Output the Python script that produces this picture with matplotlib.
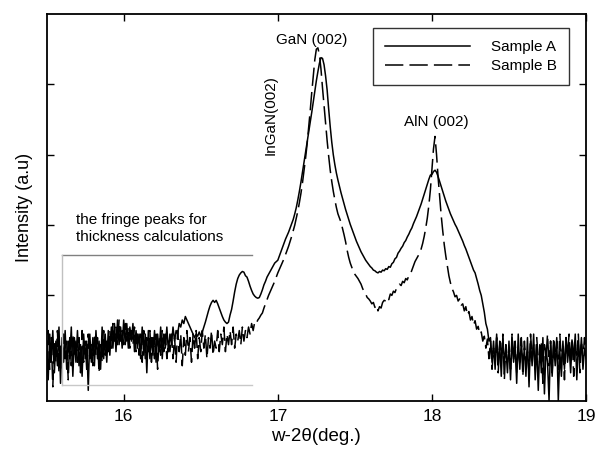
import numpy as np
import matplotlib
matplotlib.use("Agg")
import matplotlib.pyplot as plt

plt.rcParams['font.family'] = ['Liberation Sans', 'DejaVu Sans']

# scan grid: 15.50 .. 19.00 deg, step 0.01
angle_start, angle_stop, angle_step = 15.50, 19.00, 0.01

# Sample A (solid) intensities, one row per 0.1 deg
sample_a = [
    0.80, 0.30, 0.95, 0.55, 1.00, 0.40, 0.85, 0.50, 1.05, 0.25,
    0.90, 0.55, 1.00, 0.45, 0.85, 0.60, 1.05, 0.35, 0.90, 0.55,
    1.00, 0.50, 0.80, 0.35, 0.95, 0.60, 0.85, 0.15, 0.95, 0.55,
    0.90, 0.50, 1.00, 0.60, 0.85, 0.45, 1.05, 0.60, 0.95, 0.55,
    1.00, 0.65, 1.05, 0.75, 1.10, 0.70, 1.15, 0.80, 1.05, 0.75,
    1.15, 0.80, 1.10, 0.75, 1.05, 0.85, 1.10, 0.70, 1.00, 0.75,
    0.95, 0.60, 1.05, 0.65, 0.95, 0.40, 1.00, 0.60, 0.90, 0.65,
    1.00, 0.55, 0.95, 0.70, 1.05, 0.60, 0.95, 0.75, 1.05, 0.70,
    0.95, 0.80, 1.05, 0.85, 1.00, 0.95, 1.10, 1.05, 1.15, 1.10,
    1.20, 1.15, 1.10, 1.05, 1.00, 0.95, 0.90, 0.95, 0.92, 0.98,
    0.92, 0.98, 1.05, 1.12, 1.20, 1.28, 1.35, 1.40, 1.43, 1.40,
    1.43, 1.38, 1.32, 1.26, 1.20, 1.15, 1.12, 1.10, 1.12, 1.22,
    1.30, 1.42, 1.55, 1.66, 1.74, 1.79, 1.82, 1.84, 1.83, 1.78,
    1.76, 1.70, 1.63, 1.57, 1.52, 1.49, 1.47, 1.46, 1.47, 1.52,
    1.58, 1.65, 1.70, 1.76, 1.80, 1.84, 1.88, 1.92, 1.96, 1.98,
    2.00, 2.06, 2.12, 2.18, 2.24, 2.30, 2.35, 2.40, 2.46, 2.52,
    2.58, 2.66, 2.75, 2.86, 2.98, 3.11, 3.25, 3.38, 3.52, 3.66,
    3.80, 3.95, 4.10, 4.25, 4.40, 4.55, 4.68, 4.80, 4.88, 4.87,
    4.78, 4.62, 4.42, 4.15, 3.90, 3.68, 3.50, 3.36, 3.24, 3.14,
    3.05, 2.96, 2.88, 2.80, 2.72, 2.65, 2.58, 2.51, 2.45, 2.39,
    2.33, 2.27, 2.22, 2.17, 2.12, 2.08, 2.04, 2.00, 1.97, 1.94,
    1.91, 1.89, 1.86, 1.85, 1.83, 1.82, 1.84, 1.83, 1.86, 1.85,
    1.88, 1.87, 1.91, 1.90, 1.95, 1.97, 2.02, 2.04, 2.10, 2.13,
    2.17, 2.20, 2.25, 2.28, 2.33, 2.37, 2.42, 2.46, 2.52, 2.57,
    2.62, 2.68, 2.74, 2.80, 2.87, 2.94, 3.01, 3.08, 3.15, 3.21,
    3.22, 3.26, 3.28, 3.25, 3.19, 3.12, 3.05, 2.98, 2.91, 2.84,
    2.78, 2.72, 2.66, 2.61, 2.56, 2.51, 2.47, 2.42, 2.37, 2.32,
    2.27, 2.21, 2.16, 2.10, 2.04, 1.98, 1.92, 1.86, 1.82, 1.74,
    1.66, 1.57, 1.50, 1.38, 1.26, 1.10, 1.02, 0.85, 0.90, 0.55,
    0.85, 0.45, 0.95, 0.50, 0.80, 0.35, 0.90, 0.55, 0.75, 0.40,
    0.85, 0.30, 0.90, 0.55, 0.80, 0.25, 0.95, 0.45, 0.85, 0.50,
    0.75, 0.35, 0.90, 0.20, 0.85, 0.50, 0.95, 0.30, 0.80, 0.15,
    0.80, 0.40, 0.90, 0.10, 0.75, 0.55, 0.00, 0.85, 0.35, 0.80,
    0.50, 0.90, 0.00, 0.70, 0.35, 0.85, 0.45, 0.90, 0.55, 0.80,
    0.40, 0.85, 0.60, 0.95, 0.30, 0.80, 0.55, 0.90, 0.45, 0.75,
    0.60,
]

# Sample B (dashed) intensities, one row per 0.1 deg
sample_b = [
    0.60, 1.00, 0.45, 0.90, 0.20, 0.85, 0.55, 1.00, 0.40, 0.80,
    0.45, 0.95, 0.60, 0.85, 0.30, 0.90, 0.50, 0.95, 0.65, 0.85,
    0.55, 0.90, 0.40, 1.00, 0.55, 0.85, 0.45, 0.95, 0.60, 0.80,
    0.50, 0.95, 0.65, 0.90, 0.40, 0.80, 0.55, 1.00, 0.65, 0.85,
    0.70, 1.00, 0.75, 1.10, 0.85, 1.05, 0.80, 1.15, 0.85, 1.00,
    0.80, 1.10, 0.85, 1.05, 0.75, 1.00, 0.80, 1.05, 0.70, 0.95,
    0.65, 0.95, 0.55, 1.00, 0.60, 0.90, 0.70, 1.00, 0.55, 0.90,
    0.60, 0.95, 0.45, 0.90, 0.65, 1.00, 0.70, 0.95, 0.60, 0.85,
    0.70, 0.95, 0.60, 0.90, 0.55, 1.00, 0.70, 0.95, 0.50, 0.90,
    0.65, 1.00, 0.70, 0.90, 0.55, 0.95, 0.75, 1.00, 0.60, 0.90,
    0.70, 1.00, 0.75, 0.95, 0.60, 0.90, 0.75, 1.00, 0.65, 0.85,
    0.75, 1.00, 0.70, 0.95, 0.80, 1.05, 0.70, 0.95, 0.80, 1.00,
    0.80, 1.05, 0.75, 0.95, 0.85, 1.00, 0.80, 1.05, 0.85, 1.00,
    0.90, 1.05, 0.95, 1.10, 1.00, 1.12, 1.10, 1.15, 1.18, 1.22,
    1.25, 1.32, 1.38, 1.44, 1.50, 1.55, 1.60, 1.65, 1.70, 1.76,
    1.82, 1.87, 1.92, 1.97, 2.02, 2.08, 2.14, 2.20, 2.27, 2.34,
    2.42, 2.50, 2.60, 2.70, 2.82, 2.95, 3.10, 3.27, 3.45, 3.65,
    3.88, 4.12, 4.38, 4.62, 4.85, 5.00, 5.02, 4.92, 4.72, 4.45,
    4.20, 3.95, 3.70, 3.48, 3.28, 3.12, 2.98, 2.86, 2.75, 2.66,
    2.60, 2.54, 2.45, 2.36, 2.26, 2.14, 2.04, 1.96, 1.90, 1.84,
    1.80, 1.77, 1.74, 1.70, 1.66, 1.60, 1.55, 1.52, 1.47, 1.45,
    1.42, 1.38, 1.40, 1.33, 1.36, 1.28, 1.34, 1.32, 1.40, 1.43,
    1.42, 1.47, 1.44, 1.52, 1.50, 1.56, 1.54, 1.60, 1.62, 1.66,
    1.64, 1.70, 1.68, 1.74, 1.72, 1.78, 1.80, 1.86, 1.92, 1.98,
    2.02, 2.06, 2.10, 2.16, 2.24, 2.34, 2.46, 2.60, 2.78, 3.00,
    3.28, 3.58, 3.76, 3.50, 3.18, 2.90, 2.64, 2.42, 2.22, 2.06,
    1.92, 1.78, 1.68, 1.60, 1.55, 1.48, 1.50, 1.42, 1.45, 1.36,
    1.38, 1.28, 1.34, 1.22, 1.27, 1.15, 1.20, 1.08, 1.14, 1.02,
    1.06, 0.95, 0.98, 0.85, 0.92, 0.75, 0.88, 0.60, 0.85, 0.45,
    0.75, 0.55, 0.90, 0.40, 0.85, 0.60, 0.95, 0.30, 0.80, 0.55,
    0.70, 0.45, 0.95, 0.60, 0.85, 0.40, 0.75, 0.55, 0.90, 0.35,
    0.85, 0.55, 0.70, 0.40, 0.95, 0.60, 0.80, 0.45, 0.90, 0.60,
    0.55, 0.85, 0.25, 0.80, 0.60, 0.95, 0.50, 0.85, 0.40, 0.90,
    0.60, 0.85, 0.45, 0.95, 0.55, 0.80, 0.30, 0.90, 0.65, 0.95,
    0.55, 0.90, 0.35, 0.80, 0.65, 0.95, 0.40, 0.85, 0.60, 0.90,
    0.70,
]

x_ticks = [16, 17, 18, 19]
x_tick_labels = ["16", "17", "18", "19"]
y_ticks = [1.5, 2.5, 3.5, 4.5]
series_labels = ["Sample A", "Sample B"]

angles = np.round(np.arange(angle_start, angle_stop + angle_step / 2, angle_step), 2)

fig = plt.figure(figsize=(5.98, 4.53), dpi=100)
ax = fig.add_axes([0.078, 0.115, 0.902, 0.854])

ax.plot(angles, sample_a, color='black', lw=1.1, label=series_labels[0])
ax.plot(angles, sample_b, color='black', lw=1.1, linestyle=(0, (12, 4)), label=series_labels[1])

ax.set_xlim(15.5, 19.0)
ax.set_ylim(0, 5.5)
ax.set_xticks(x_ticks)
ax.set_xticklabels(x_tick_labels)
ax.set_yticks(y_ticks)
ax.set_yticklabels([])
ax.tick_params(direction='in', length=5, width=1, top=True, right=True,
               labelsize=12.5, pad=6)
for s in ax.spines.values():
    s.set_linewidth(1.3)

ax.set_xlabel("w-2θ(deg.)", fontsize=13.5, labelpad=3)
ax.set_ylabel("Intensity (a.u)", fontsize=13, labelpad=4)

# bracket around fringe region
ax.plot([15.60, 16.83], [2.07, 2.07], color='#808080', lw=1.0)
ax.plot([15.60, 15.60], [2.07, 0.23], color='#c0c0c0', lw=1.0)
ax.plot([15.60, 16.83], [0.23, 0.23], color='#c8c8c8', lw=1.0)

ax.text(15.69, 2.57, "the fringe peaks for", fontsize=11, ha='left', va='center')
ax.text(15.69, 2.33, "thickness calculations", fontsize=11, ha='left', va='center')
ax.text(17.22, 5.13, "GaN (002)", fontsize=11, ha='center', va='center')
ax.text(16.955, 4.07, "InGaN(002)", fontsize=11, ha='center', va='center', rotation=90)
ax.text(18.03, 3.96, "AlN (002)", fontsize=11, ha='center', va='center')

leg = ax.legend(loc='upper right', bbox_to_anchor=(0.9515, 0.938),
                bbox_transform=fig.transFigure, fontsize=11, handlelength=5.5,
                handletextpad=1.4, labelspacing=0.3, borderpad=0.8,
                frameon=True, fancybox=False, borderaxespad=0)
leg.get_frame().set_edgecolor('black')
leg.get_frame().set_linewidth(1.0)

fig.savefig("out.png", dpi=100)
